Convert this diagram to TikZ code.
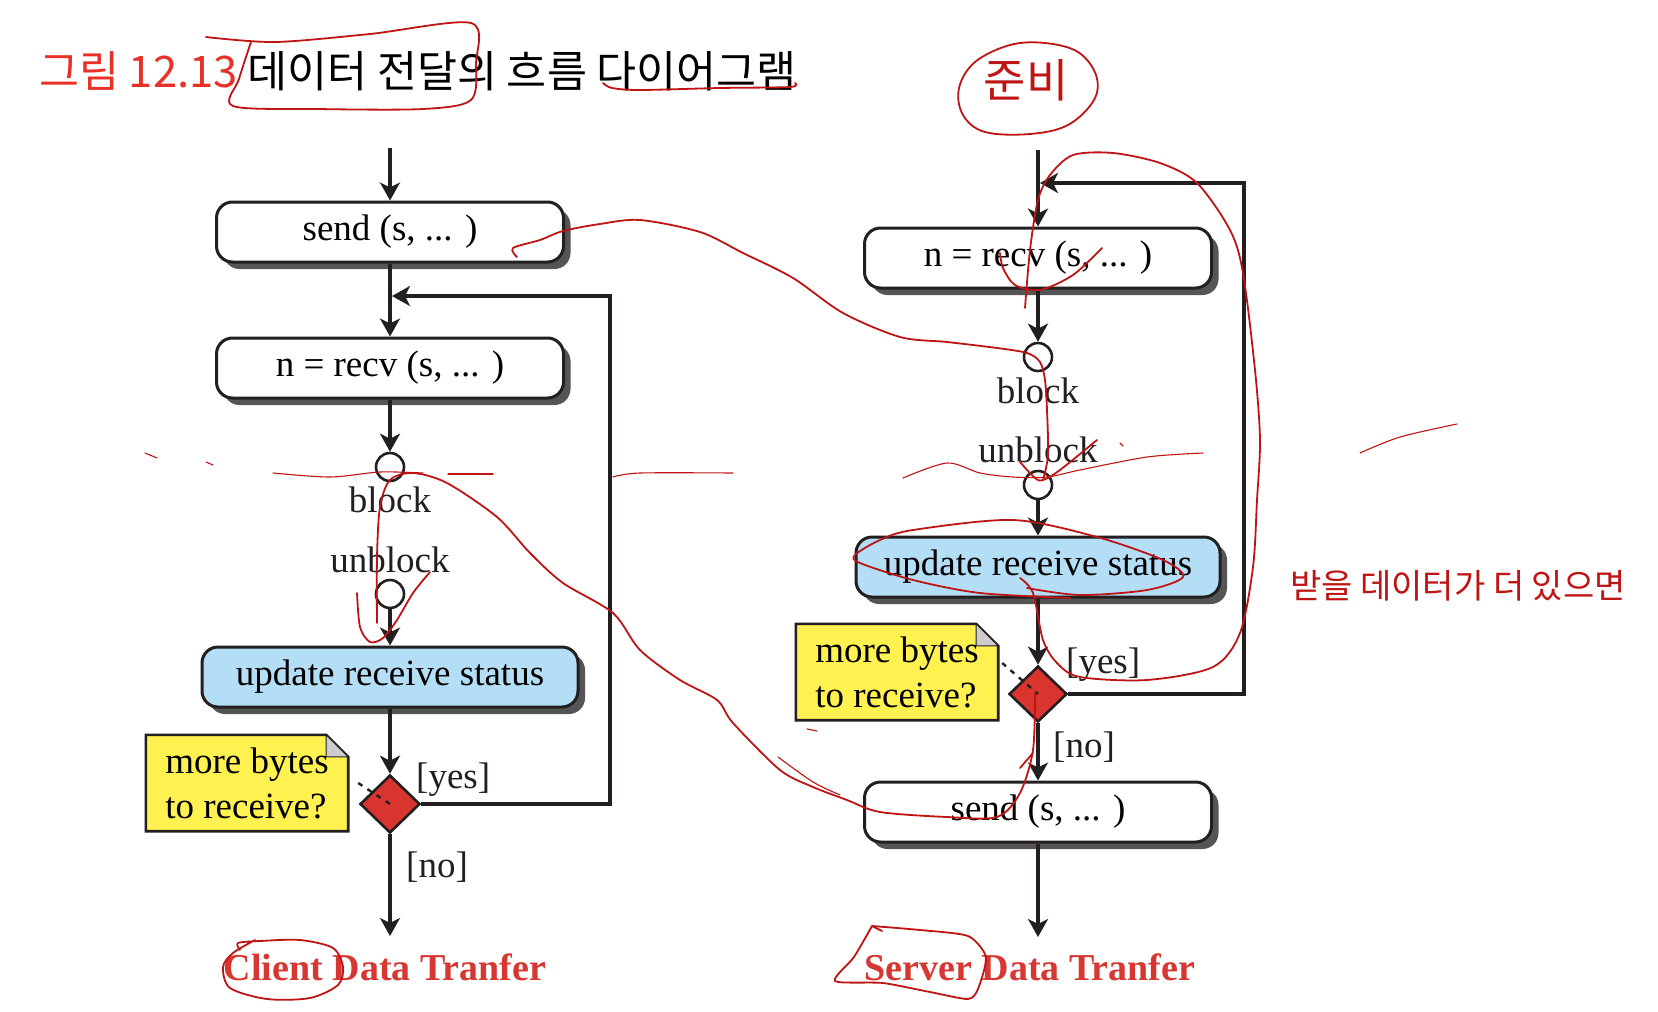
\documentclass[tikz,border=0pt]{standalone}
\usepackage{fontspec}
\setmainfont{Liberation Serif}
\newfontfamily\krfont{Noto Sans CJK KR}
\usetikzlibrary{arrows.meta,shapes.geometric,shadows,backgrounds,calc}
\definecolor{linecol}{RGB}{35,31,32}
\definecolor{shadowgray}{RGB}{85,85,85}
\definecolor{boxblue}{RGB}{180,222,245}
\definecolor{noteyellow}{RGB}{255,242,80}
\definecolor{foldgray}{RGB}{205,205,205}
\definecolor{diared}{RGB}{217,52,45}
\definecolor{titlered}{RGB}{232,50,40}
\definecolor{labelred}{RGB}{214,55,50}
\definecolor{inkred}{RGB}{190,20,20}
\newcommand\dgfont{\fontsize{37}{45}\selectfont}
\begin{document}
\begin{tikzpicture}[x=1pt,y=-1pt,
  procbox/.style={rectangle, rounded corners=16pt, draw=linecol, line width=3pt, fill=white,
    inner sep=0pt, minimum width=347pt, minimum height=60pt, font=\dgfont,
    drop shadow={shadow xshift=7pt, shadow yshift=-7pt, fill=shadowgray, opacity=1}},
  updbox/.style={procbox, fill=boxblue},
  waitc/.style={circle, draw=linecol, line width=2.6pt, fill=white, minimum size=28pt, inner sep=0pt},
  decision/.style={diamond, draw=linecol, line width=2.6pt, fill=diared, minimum width=60pt,
    minimum height=58pt, inner sep=0pt},
  notebox/.style={rectangle, minimum width=202pt, minimum height=96pt, inner sep=0pt, align=left, font=\dgfont},
  notelink/.style={draw=linecol, line width=2.4pt, dash pattern=on 5pt off 6pt},
  lbl/.style={inner sep=0pt, font=\dgfont, text=linecol},
  endlbl/.style={inner sep=0pt, font=\fontsize{38}{44}\selectfont\bfseries, text=labelred},
  arr/.style={draw=linecol, line width=3.2pt, -{Stealth[length=18pt,width=20pt,inset=5pt]}},
  redink/.style={draw=inkred, line width=1.8pt, line cap=round, line join=round},
  thinink/.style={draw=inkred, line width=1.1pt, line cap=round, line join=round}
]
\useasboundingbox (0,0) rectangle (1658,1012);

% ---------- title ----------
\node[anchor=base west, inner sep=0pt, font=\krfont\fontsize{43.5}{48}\selectfont] (title) at (39,87)
  {\textcolor{titlered}{그림 12.13} 데이터 전달의 흐름 다이어그램};

% ---------- left column ----------
\coordinate (topL) at (390,148);
\node[procbox] (sendL) at (390,232) {send (s, ... )};
\node[procbox] (recvL) at (390,368) {n = recv (s, ... )};
\node[waitc] (c1L) at (390,467) {};
\node[lbl, anchor=base] (blockL) at (390,512) {block};
\node[lbl, anchor=base] (unblockL) at (390,572) {unblock};
\node[waitc] (c2L) at (390,594) {};
\node[updbox, minimum width=376pt] (updL) at (390,677) {update receive status};
\node[decision] (dL) at (390,804) {};
\node[notebox] (noteL) at (247,783) {more bytes\\to receive?};
\node[lbl, anchor=base west] (yesL) at (416,788) {[yes]};
\node[lbl, anchor=base west] (noL) at (406,877) {[no]};
\node[endlbl, anchor=base] (titleL) at (385,980) {Client Data Tranfer};
\coordinate (endL) at (390,936);
\coordinate (cornerL) at (610,296);
\coordinate (joinL) at (392,296);

\draw[arr] (topL) -- (sendL.north);
\draw[arr] (sendL.south) -- (recvL.north);
\draw[arr] (dL.east) -| (cornerL) -- (joinL);
\draw[arr] (recvL.south) -- (c1L.north);
\draw[arr] (c2L.south) -- (updL.north);
\draw[arr] (updL.south) -- (dL.north);
\draw[arr] (dL.south) -- (endL);
\draw[notelink] ([xshift=10pt]noteL.east) -- (dL.center);

% ---------- right column ----------
\coordinate (topR) at (1038,150);
\node[procbox] (recvR) at (1038,258) {n = recv (s, ... )};
\node[waitc] (c1R) at (1038,357) {};
\node[lbl, anchor=base] (blockR) at (1038,403) {block};
\node[lbl, anchor=base] (unblockR) at (1038,462) {unblock};
\node[waitc] (c2R) at (1038,485) {};
\node[updbox, minimum width=364pt] (updR) at (1038,567) {update receive status};
\node[decision, minimum width=58pt, minimum height=56pt] (dR) at (1038,694) {};
\node[notebox] (noteR) at (897,672) {more bytes\\to receive?};
\node[lbl, anchor=base west] (yesR) at (1066,673) {[yes]};
\node[lbl, anchor=base west] (noR) at (1053,757) {[no]};
\node[procbox] (sendR) at (1038,812) {send (s, ... )};
\node[endlbl, anchor=base] (titleR) at (1030,980) {Server Data Tranfer};
\coordinate (endR) at (1038,937);
\coordinate (cornerR) at (1244,183);
\coordinate (joinR) at (1040,183);

\draw[arr] (topR) -- (recvR.north);
\draw[arr] (dR.east) -| (cornerR) -- (joinR);
\draw[arr] (recvR.south) -- (c1R.north);
\draw[arr] (c2R.south) -- (updR.north);
\draw[arr] (updR.south) -- (dR.north);
\draw[arr] (dR.south) -- (sendR.north);
\draw[arr] (sendR.south) -- (endR);
\draw[notelink] ([shift={(4,-9)}]noteR.east) -- (dR.center);

% ---------- note outlines ----------
\begin{pgfonlayer}{background}
\foreach \nn in {noteL,noteR}{
  \filldraw[draw=linecol, line width=2.6pt, fill=noteyellow]
    (\nn.north west) -- ([xshift=-22pt]\nn.north east) -- ([yshift=-22pt]\nn.north east)
    -- (\nn.south east) -- (\nn.south west) -- cycle;
  \filldraw[draw=linecol, line width=1pt, fill=foldgray]
    ([xshift=-22pt]\nn.north east) -- ([xshift=-22pt,yshift=-22pt]\nn.north east)
    -- ([yshift=-22pt]\nn.north east) -- cycle;
}
\end{pgfonlayer}

% ---------- handwritten red annotations ----------
\draw[redink] plot[smooth, tension=0.5] coordinates {(206,37) (275,42) (370,34) (471,23) (476,63) (471,100) (423,109) (317,109) (233,106) (239,79) (251,42)};
\draw[redink] plot[smooth, tension=0.5] coordinates {(603,83) (612,88) (640,90) (720,88) (790,87) (795,83)};
\draw[redink] plot[smooth cycle, tension=0.6] coordinates {(975,62) (1010,45) (1045,43) (1078,52) (1096,75) (1094,100) (1068,125) (1030,134) (985,132) (963,115) (959,88)};
\node[font=\krfont\fontsize{46}{50}\selectfont, text=inkred, inner sep=0pt] (junbi) at (1026,80) {준비};

\draw[redink] plot[smooth, tension=0.5] coordinates {(517,257) (513,248) (540,240) (563,231) (600,224) (640,220) (700,232) (743,253) (793,278) (843,313) (900,337) (947,342) (997,348) (1027,353) (1040,362) (1045,380) (1047,410) (1048,455) (1043,480)};
\draw[redink] plot[smooth, tension=0.5] coordinates {(1020,462) (1035,478) (1043,480) (1060,470) (1097,440)};
\draw[redink] plot[smooth, tension=0.5] coordinates {(1000,253) (1003,268) (1015,285) (1040,290) (1073,275) (1102,248)};
\draw[redink] plot[smooth, tension=0.5] coordinates {(1025,308) (1030,250) (1038,200) (1050,175) (1073,155) (1113,153) (1160,163) (1197,183) (1230,230) (1243,273) (1255,370) (1260,440) (1257,500) (1253,567) (1240,633) (1213,667) (1147,680) (1080,677) (1057,663) (1043,640) (1033,593) (1020,578)};
\draw[redink] plot[smooth, tension=0.5] coordinates {(1070,598) (980,593) (913,580) (860,563) (855,555) (880,540) (913,530) (1013,520) (1097,537) (1163,560) (1183,577) (1147,590) (1080,595) (1027,588)};
\draw[redink] plot[smooth, tension=0.5] coordinates {(377,623) (377,557) (380,507) (390,480) (413,473) (447,483) (497,517) (530,553) (563,583) (613,613) (640,650) (680,680) (717,700) (733,723) (780,770) (813,787) (847,800) (880,812) (947,817) (997,817) (1020,793) (1033,750) (1035,693)};
\draw[redink] plot[smooth, tension=0.5] coordinates {(357,593) (360,627) (370,642) (383,638) (397,620) (413,593) (430,572)};
\draw[redink] (1020,768) -- (1033,753);
\draw[thinink] plot[smooth, tension=0.5] coordinates {(778,757) (813,782) (840,795)};

\draw[thinink] (145,453) -- (157,458);
\draw[thinink] (206,462) -- (213,465);
\draw[thinink] plot[smooth, tension=0.5] coordinates {(273,473) (330,477) (380,472) (423,473)};
\draw[thinink] (448,474) -- (493,474);
\draw[thinink] plot[smooth, tension=0.5] coordinates {(613,477) (640,473) (733,473)};
\draw[thinink] plot[smooth, tension=0.5] coordinates {(903,478) (947,463) (980,473) (1013,477) (1047,477) (1080,470) (1147,457) (1203,453)};
\draw[thinink] (1120,443) -- (1123,446);
\draw[thinink] plot[smooth, tension=0.5] coordinates {(1360,453) (1400,437) (1457,424)};
\draw[thinink] (807,729) -- (817,731);

\node[font=\krfont\fontsize{34}{40}\selectfont, text=inkred, inner sep=0pt] (more) at (1458,586) {받을 데이터가 더 있으면};

\draw[redink] plot[smooth, tension=0.5] coordinates {(240,950) (238,943) (260,941) (300,940) (333,948) (343,967) (338,985) (310,998) (267,999) (230,988) (223,967) (233,953) (255,940)};
\draw[redink] plot[smooth, tension=0.4] coordinates {(872,926) (920,930) (968,936) (986,957) (978,989) (968,999) (930,992) (883,983) (835,981) (854,957) (872,926)};
\draw[redink] (872,926) -- (882,931);
\end{tikzpicture}
\end{document}
